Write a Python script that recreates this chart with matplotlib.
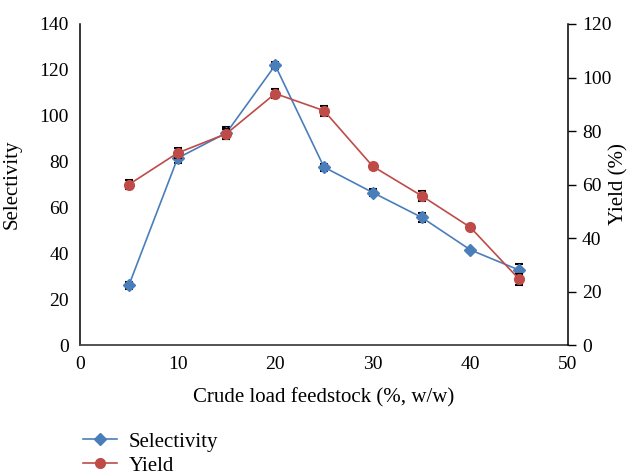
import matplotlib.pyplot as plt

plt.rcParams['font.family'] = ['Liberation Serif', 'DejaVu Serif']

feed = [5, 10, 15, 20, 25, 30, 35, 40, 45]
selectivity = [26, 81.5, 92.5, 122, 77.6, 66.5, 55.7, 41.5, 32.7]
selectivity_err = [1.5, 2, 2.5, 1.5, 1.5, 1.5, 2, 1, 2.5]
yield_pct = [60, 71.8, 79, 94, 87.6, 66.8, 55.8, 44, 24.6]
yield_err = [1.8, 2, 1.8, 1.8, 1.8, 1, 1.8, 1, 2]

blue = '#4A7EBB'
red = '#BE4B48'

fig = plt.figure(figsize=(6.4, 4.76), dpi=100)
ax = fig.add_axes([0.125, 0.275, 0.7625, 0.6746])
ax2 = ax.twinx()

ax.errorbar(feed, selectivity, yerr=selectivity_err, color=blue, marker='D',
            markersize=6, linewidth=1.2, ecolor='black', elinewidth=1,
            capsize=3, capthick=1.5, zorder=3)
ax2.errorbar(feed, yield_pct, yerr=yield_err, color=red, marker='o',
             markersize=7, linewidth=1.2, ecolor='black', elinewidth=1,
             capsize=3, capthick=1.5, zorder=3)

ax.set_xlim(0, 50)
ax.set_ylim(0, 140)
ax2.set_ylim(0, 120)
ax.set_xticks(range(0, 51, 10))
ax.set_yticks(range(0, 141, 20))
ax2.set_yticks(range(0, 121, 20))

ax.tick_params(labelsize=14, length=0, pad=8)
ax2.tick_params(labelsize=14, direction='out', length=6, width=1, pad=4)
for a in (ax, ax2):
    a.spines['top'].set_visible(False)
ax.spines['right'].set_visible(False)
ax2.spines['left'].set_visible(False)
ax2.spines['bottom'].set_visible(False)
ax.spines['left'].set_linewidth(1.1)
ax.spines['bottom'].set_color('#444444')
ax.spines['bottom'].set_linewidth(1.3)
ax2.spines['right'].set_linewidth(1.1)

ax.set_xlabel('Crude load feedstock (%, w/w)', fontsize=15)
ax.set_ylabel('Selectivity', fontsize=15)
ax2.set_ylabel('Yield (%)', fontsize=15)
ax.xaxis.set_label_coords(0.5, -0.135)
ax.yaxis.set_label_coords(-0.119, 0.5)
ax2.yaxis.set_label_coords(1.085, 0.5)

h1 = plt.Line2D([], [], color=blue, marker='D', markersize=6, linewidth=1.2)
h2 = plt.Line2D([], [], color=red, marker='o', markersize=7, linewidth=1.2)
fig.legend([h1, h2], ['Selectivity', 'Yield'], loc='upper left',
           bbox_to_anchor=(0.13, 0.092), frameon=False, fontsize=15,
           borderpad=0, borderaxespad=0, handlelength=1.6,
           handletextpad=0.6, labelspacing=0.2)

fig.savefig('out.png', dpi=100)
